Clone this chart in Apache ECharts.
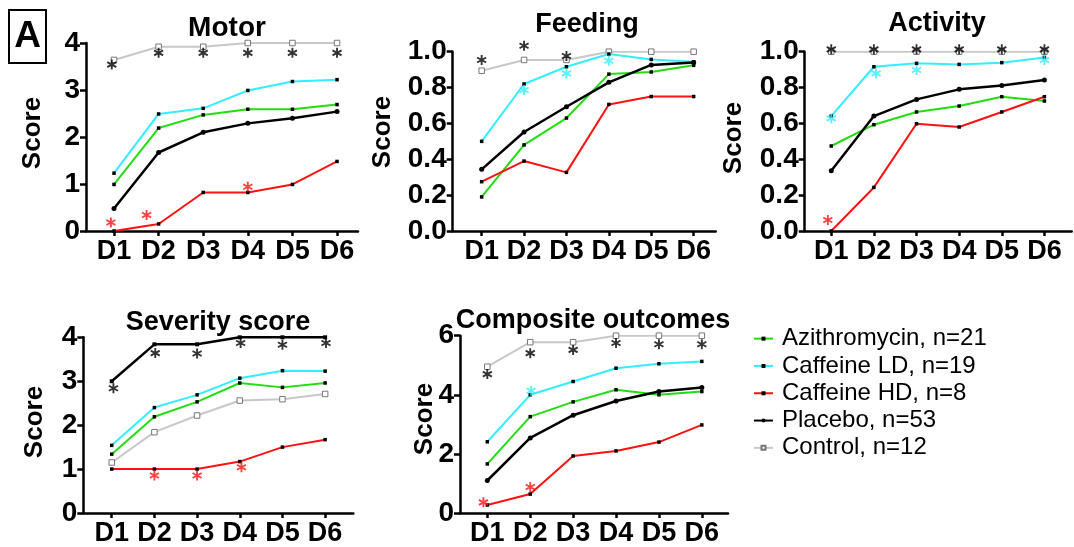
<!DOCTYPE html>
<html>
<head>
<meta charset="utf-8">
<script src="https://cdn.jsdelivr.net/npm/echarts@6/dist/echarts.min.js"></script>
<style>
    html, body { margin: 0; padding: 0; background: #fff; }
    #chart { width: 1074px; height: 547px; }
</style>
</head>
<body>
<div id="chart"></div>
<script>
//数据
var dayTicks = [1, 2, 3, 4, 5, 6];
var groups = ['Azithromycin, n=21', 'Caffeine LD, n=19', 'Caffeine HD, n=8', 'Placebo, n=53', 'Control, n=12'];

//Motor
var motorAzi = [0.99, 2.19, 2.47, 2.59, 2.59, 2.69];
var motorLD = [1.23, 2.49, 2.61, 2.99, 3.18, 3.22];
var motorHD = [0, 0.15, 0.82, 0.82, 0.99, 1.48];
var motorPlacebo = [0.48, 1.67, 2.10, 2.29, 2.40, 2.54];
var motorControl = [3.64, 3.92, 3.92, 4, 4, 4];

//Feeding
var feedAzi = [0.19, 0.48, 0.63, 0.875, 0.887, 0.924];
var feedLD = [0.50, 0.82, 0.916, 0.987, 0.957, 0.944];
var feedHD = [0.275, 0.39, 0.327, 0.706, 0.75, 0.75];
var feedPlacebo = [0.344, 0.552, 0.693, 0.829, 0.926, 0.94];
var feedControl = [0.894, 0.954, 0.954, 1, 1, 1];

//Activity
var actAzi = [0.474, 0.593, 0.664, 0.697, 0.749, 0.725];
var actLD = [0.641, 0.916, 0.935, 0.929, 0.939, 0.968];
var actHD = [0, 0.243, 0.598, 0.58, 0.664, 0.749];
var actPlacebo = [0.336, 0.641, 0.734, 0.79, 0.812, 0.842];
var actControl = [1, 1, 1, 1, 1, 1];

//Severity score
var sevAzi = [1.34, 2.19, 2.53, 2.96, 2.86, 2.96];
var sevLD = [1.54, 2.40, 2.69, 3.07, 3.24, 3.23];
var sevHD = [1, 1, 1, 1.17, 1.5, 1.67];
var sevPlacebo = [1.15, 1.84, 2.22, 2.56, 2.59, 2.71];
var sevControl = [3.0, 3.84, 3.84, 4, 4, 4];

//Composite outcomes
var compAzi = [1.66, 3.26, 3.76, 4.17, 4.0, 4.11];
var compLD = [2.41, 4.0, 4.45, 4.9, 5.05, 5.13];
var compHD = [0.27, 0.64, 1.93, 2.1, 2.4, 2.98];
var compPlacebo = [1.1, 2.54, 3.31, 3.79, 4.11, 4.25];
var compControl = [4.95, 5.78, 5.78, 6, 6, 6];

//显著性星号 [day, score]
var motorStarsBlack = [[0.95, 3.54], [2, 3.79], [3, 3.79], [4, 3.79], [5, 3.79], [6, 3.79]];
var motorStarsRed = [[0.93, 0.18], [1.73, 0.34], [4, 0.94]];
var feedStarsBlack = [[1, 0.954], [2, 1.033], [3, 0.976]];
var feedStarsCyan = [[2, 0.786], [3, 0.879], [4, 0.95]];
var actStarsBlack = [[1, 1.013], [2, 1.013], [3, 1.013], [4, 1.013], [5, 1.013], [6, 1.013]];
var actStarsCyan = [[1, 0.628], [2.05, 0.879], [3, 0.898], [6, 0.954]];
var actStarsRed = [[0.92, 0.061]];
var sevStarsBlack = [[1.04, 2.84], [2.02, 3.64], [3, 3.63], [4.02, 3.87], [5, 3.83], [6.02, 3.87]];
var sevStarsRed = [[2, 0.855], [3, 0.855], [4.04, 1.04]];
var compStarsBlack = [[1, 4.7], [2, 5.41], [3, 5.52], [4, 5.75], [5, 5.71], [6, 5.71]];
var compStarsCyan = [[2.02, 4.14]];
var compStarsRed = [[0.91, 0.36], [2, 0.88]];

var GREEN = '#22dd11', CYAN = '#33eeff', RED = '#ff1111', GREY = '#c8c8c8';
var FONT = '"Liberation Sans", Arial, sans-serif';
//星号形状（三根交叉的条）
var STAR = 'path://M4.1,0L5.9,0L5.9,10L4.1,10Z' +
    'M9.78,6.721L8.88,8.279L0.22,3.279L1.12,1.721Z' +
    'M8.88,1.721L9.78,3.279L1.12,8.279L0.22,6.721Z';

//每组线的样式
var lineStyles = [
    { color: GREEN, width: 2, symbol: 'rect', size: 3.5, fill: '#000' },
    { color: CYAN, width: 2, symbol: 'rect', size: 3.5, fill: '#000' },
    { color: RED, width: 2, symbol: 'rect', size: 3.5, fill: '#000' },
    { color: '#000', width: 2.5, symbol: 'circle', size: 5, fill: '#000' },
    { color: GREY, width: 2, symbol: 'rect', size: 5.5, fill: '#fff', border: '#777' }
];

var panels = [
    { title: 'Motor', titleSize: 28, tx: 227, ty: 28, sx: 33, sy: 133,
      grid: { left: 86, top: 43, width: 272, height: 188 }, xMin: 0.372, xMax: 6.47,
      yMax: 4, yStep: 1, digits: 0,
      lines: [motorAzi, motorLD, motorHD, motorPlacebo, motorControl],
      stars: [[motorStarsBlack, '#000'], [motorStarsRed, RED]] },
    { title: 'Feeding', titleSize: 27, tx: 587, ty: 25, sx: 383, sy: 132,
      grid: { left: 452.7, top: 51.7, width: 263, height: 179.3 }, xMin: 0.317, xMax: 6.52,
      yMax: 1, yStep: 0.2, digits: 1,
      lines: [feedAzi, feedLD, feedHD, feedPlacebo, feedControl],
      stars: [[feedStarsBlack, '#000'], [feedStarsCyan, CYAN]] },
    { title: 'Activity', titleSize: 27, tx: 937, ty: 24, sx: 734, sy: 138,
      grid: { left: 804.7, top: 51.7, width: 267, height: 179.3 }, xMin: 0.377, xMax: 6.64,
      yMax: 1, yStep: 0.2, digits: 1,
      lines: [actAzi, actLD, actHD, actPlacebo, actControl],
      stars: [[actStarsBlack, '#000'], [actStarsCyan, CYAN], [actStarsRed, RED]] },
    { title: 'Severity score', titleSize: 27, tx: 218, ty: 322.5, sx: 35, sy: 422,
      grid: { left: 83.3, top: 337.3, width: 270, height: 179.4 }, xMin: 0.334, xMax: 6.66,
      yMax: 4, yStep: 1, digits: 0,
      lines: [sevAzi, sevLD, sevHD, sevPlacebo, sevControl],
      //这个图里 Placebo/Control 颜色是对调的
      swap: true,
      stars: [[sevStarsBlack, '#000'], [sevStarsRed, RED]] },
    { title: 'Composite outcomes', titleSize: 27, tx: 593, ty: 321, sx: 425, sy: 419,
      grid: { left: 460, top: 335.7, width: 268, height: 181 }, xMin: 0.363, xMax: 6.61,
      yMax: 6, yStep: 2, digits: 0,
      lines: [compAzi, compLD, compHD, compPlacebo, compControl],
      stars: [[compStarsBlack, '#000'], [compStarsCyan, CYAN], [compStarsRed, RED]] }
];

function toPoints(values) {
    return values.map(function(v, i) { return [dayTicks[i], v]; });
}

var grids = [], xAxes = [], yAxes = [], series = [], graphics = [];

panels.forEach(function(p, k) {
    grids.push(p.grid);

    xAxes.push({
        type: 'value', gridIndex: k, min: p.xMin, max: p.xMax,
        splitLine: { show: false },
        axisLine: { lineStyle: { color: '#000', width: 2.5 } },
        axisTick: { customValues: dayTicks, length: 5, lineStyle: { color: '#000', width: 2.5 } },
        axisLabel: {
            customValues: dayTicks, margin: 7,
            formatter: function(v) { return 'D' + v; },
            color: '#000', fontSize: 27, fontWeight: 'bold', fontFamily: FONT
        }
    });

    yAxes.push({
        type: 'value', gridIndex: k, min: 0, max: p.yMax, interval: p.yStep,
        splitLine: { show: false },
        axisLine: { show: true, lineStyle: { color: '#000', width: 2.5 } },
        axisTick: { show: true, length: 6, lineStyle: { color: '#000', width: 2.5 } },
        axisLabel: {
            margin: 6,
            formatter: (function(d) { return function(v) { return v.toFixed(d); }; })(p.digits),
            color: '#000', fontSize: 28, fontWeight: 'bold', fontFamily: FONT
        }
    });

    p.lines.forEach(function(vals, g) {
        var s = lineStyles[g];
        if (p.swap && g == 3) s = lineStyles[4];
        if (p.swap && g == 4) s = { color: '#000', width: 2.5, symbol: 'rect', size: 4, fill: '#000' };
        series.push({
            type: 'line', name: groups[g], xAxisIndex: k, yAxisIndex: k,
            data: toPoints(vals),
            symbol: s.symbol, symbolSize: s.size, showSymbol: true,
            lineStyle: { color: s.color, width: s.width },
            itemStyle: { color: s.fill, borderColor: s.border || s.fill, borderWidth: s.border ? 1 : 0 },
            z: g == 4 ? 1 : 2,
            animation: false, silent: true
        });
    });

    //星号
    p.stars.forEach(function(st) {
        series.push({
            type: 'scatter', xAxisIndex: k, yAxisIndex: k,
            data: st[0], symbol: STAR, symbolSize: 10,
            itemStyle: { color: st[1] },
            clip: false,
            z: 5, animation: false, silent: true
        });
    });

    graphics.push({
        type: 'text', x: p.tx, y: p.ty,
        style: { text: p.title, align: 'center', verticalAlign: 'middle',
                 font: 'bold ' + p.titleSize + 'px ' + FONT, fill: '#000' }
    });
    graphics.push({
        type: 'text', x: p.sx, y: p.sy, rotation: Math.PI / 2,
        style: { text: 'Score', align: 'center', verticalAlign: 'middle',
                 font: 'bold 26px ' + FONT, fill: '#000' }
    });
});

//左上角 A
graphics.push({
    type: 'rect', shape: { x: 9, y: 10, width: 37, height: 53 },
    style: { fill: 'none', stroke: '#000', lineWidth: 2 }
});
graphics.push({
    type: 'text', x: 27.5, y: 37,
    style: { text: 'A', align: 'center', verticalAlign: 'middle',
             font: 'bold 37px ' + FONT, fill: '#000' }
});

var chart = echarts.init(document.getElementById('chart'), null, { renderer: 'canvas' });
chart.setOption({
    animation: false,
    backgroundColor: '#fff',
    grid: grids,
    xAxis: xAxes,
    yAxis: yAxes,
    legend: {
        data: groups, orient: 'vertical', left: 748, top: 320,
        itemWidth: 19, itemHeight: 5, itemGap: 0,
        textStyle: { fontSize: 24, lineHeight: 27.3, color: '#000', fontFamily: FONT, padding: [0, 0, 0, 4] },
        selectedMode: false
    },
    graphic: graphics,
    series: series
});
</script>
</body>
</html>
